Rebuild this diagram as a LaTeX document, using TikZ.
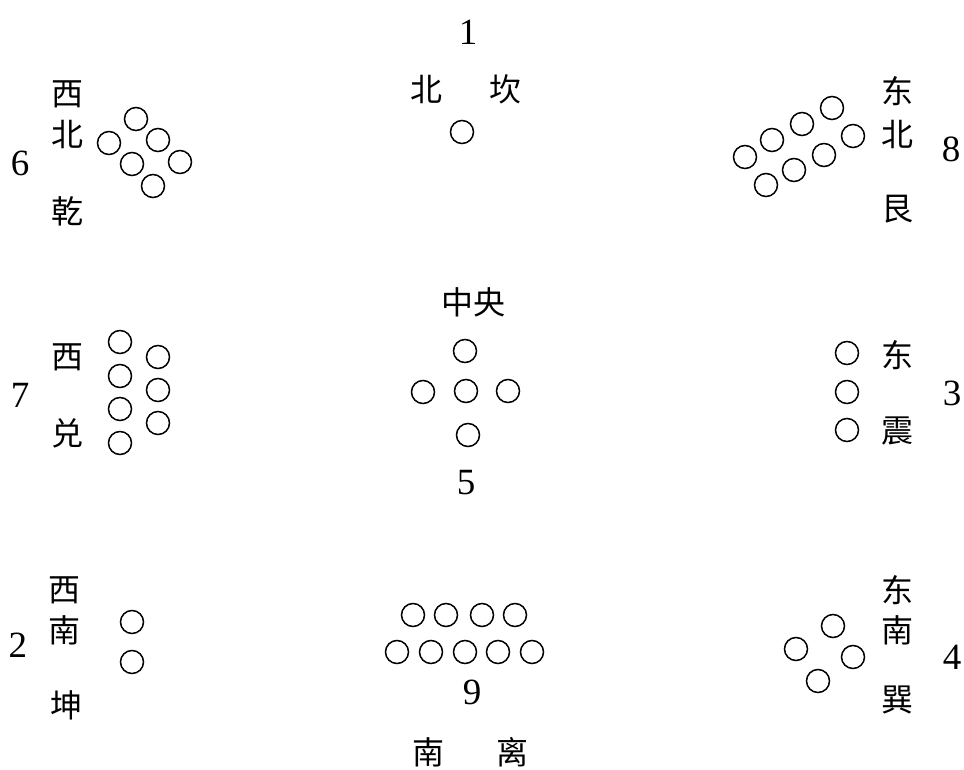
\documentclass[tikz,border=0pt]{standalone}
\usepackage{fontspec}
\setmainfont{Liberation Serif}
\newfontfamily\cjk{Noto Sans CJK SC}
\begin{document}
\begin{tikzpicture}[x=1pt,y=-1pt,
  dot/.style={circle,draw,line width=1.5pt,minimum size=23pt,inner sep=0pt},
  hz/.style={font=\cjk\fontsize{32}{32}\selectfont,inner sep=0pt},
  num/.style={font=\fontsize{37}{37}\selectfont,inner sep=0pt}]
\useasboundingbox[fill=white] (0,0) rectangle (964,770);
% --- 1 North (Kan)
\node[num] (n1) at (468,32) {1};
\node[hz] (t1a) at (426,89) {北};
\node[hz] (t1b) at (505,89) {坎};
\foreach \i/\x/\y in {1/462/132} \node[dot] (c1-\i) at (\x,\y) {};
% --- 6 Northwest (Qian)
\node[num] (n6) at (20,163) {6};
\node[hz] (t6a) at (67,94) {西};
\node[hz] (t6b) at (67,134) {北};
\node[hz] (t6c) at (67,211) {乾};
\foreach \i/\x/\y in {1/136/119,2/158/140,3/109/143,4/180/162,5/132/164,6/153/186}
  \node[dot] (c6-\i) at (\x,\y) {};
% --- 8 Northeast (Gen)
\node[num] (n8) at (951,149) {8};
\node[hz] (t8a) at (897,91) {东};
\node[hz] (t8b) at (897,134) {北};
\node[hz] (t8c) at (897,209) {艮};
\foreach \i/\x/\y in {1/832/108,2/802/124,3/772/140,4/745/157,5/853/136,6/824/155,7/794/170,8/766/185}
  \node[dot] (c8-\i) at (\x,\y) {};
% --- 7 West (Dui)
\node[num] (n7) at (20,395) {7};
\node[hz] (t7a) at (67,357) {西};
\node[hz] (t7b) at (67,433) {兑};
\foreach \i/\x/\y in {1/120/342,2/120/376,3/120/409,4/120/443,5/158/357,6/158/390,7/158/423}
  \node[dot] (c7-\i) at (\x,\y) {};
% --- 5 Centre
\node[hz] (t5) at (473,302) {中央};
\node[num] (n5) at (466,483) {5};
\foreach \i/\x/\y in {1/465/351,2/423/392,3/466/391,4/508/391,5/468/435}
  \node[dot] (c5-\i) at (\x,\y) {};
% --- 3 East (Zhen)
\node[num] (n3) at (952,393) {3};
\node[hz] (t3a) at (897,355) {东};
\node[hz] (t3b) at (897,431) {震};
\foreach \i/\x/\y in {1/847/353,2/847/392,3/847/430}
  \node[dot] (c3-\i) at (\x,\y) {};
% --- 2 Southwest (Kun)
\node[num] (n2) at (18,645) {2};
\node[hz] (t2a) at (64,590) {西};
\node[hz] (t2b) at (64,630) {南};
\node[hz] (t2c) at (66,705) {坤};
\foreach \i/\x/\y in {1/132/622,2/132/662}
  \node[dot] (c2-\i) at (\x,\y) {};
% --- 9 South (Li)
\node[num] (n9) at (472,692) {9};
\node[hz] (t9a) at (428,752) {南};
\node[hz] (t9b) at (512,752) {离};
\foreach \i/\x/\y in {1/413/615,2/446/615,3/482/615,4/515/615,5/397/652,6/431/652,7/465/652,8/498/652,9/532/652}
  \node[dot] (c9-\i) at (\x,\y) {};
% --- 4 Southeast (Xun)
\node[num] (n4) at (952,657) {4};
\node[hz] (t4a) at (897,590) {东};
\node[hz] (t4b) at (897,630) {南};
\node[hz] (t4c) at (897,700) {巽};
\foreach \i/\x/\y in {1/833/626,2/796/649,3/853/657,4/818/681}
  \node[dot] (c4-\i) at (\x,\y) {};
\end{tikzpicture}
\end{document}
